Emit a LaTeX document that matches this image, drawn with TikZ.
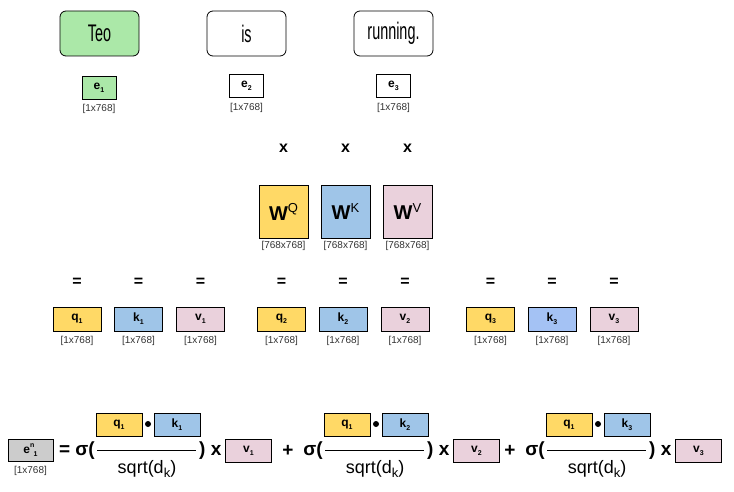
\documentclass[tikz,border=0pt]{standalone}
\usepackage{fontspec}
\setmainfont{Liberation Sans}
\usepackage{graphicx}
\usetikzlibrary{positioning}

\definecolor{wordgreen}{HTML}{ABE8A8}
\definecolor{qyellow}{HTML}{FFD966}
\definecolor{kblue}{HTML}{9FC5E8}
\definecolor{kbluealt}{HTML}{A4C2F4}
\definecolor{vpink}{HTML}{EAD1DC}
\definecolor{engray}{HTML}{CCCCCC}

\newcommand{\setfs}[1]{\fontsize{#1}{#1}\selectfont}
\newcommand{\narrowword}[1]{\scalebox{0.6}[1]{#1}}
\newcommand{\lowsub}[1]{\raisebox{-0.45ex}{\scriptsize #1}}

\begin{document}
\begin{tikzpicture}[x=1pt,y=-1pt,
  word/.style={draw,line width=0.8pt,rounded corners=6pt,minimum width=79pt,minimum height=45pt,inner sep=0pt,font=\setfs{24}},
  vecbox/.style={draw,line width=0.8pt,minimum width=48pt,minimum height=24pt,inner sep=0pt,font=\setfs{12}\bfseries},
  embox/.style={vecbox,minimum width=34pt,minimum height=23pt},
  matbox/.style={draw,line width=0.8pt,minimum width=49pt,minimum height=53pt,inner sep=0pt,font=\setfs{20}\bfseries},
  dimlabel/.style={font=\setfs{10},text=black!80,inner sep=0pt},
  opsign/.style={font=\setfs{16}\bfseries,inner sep=0pt},
  bigop/.style={font=\setfs{19}\bfseries,inner sep=0pt},
  sqrtlabel/.style={font=\setfs{18},inner sep=0pt}]
 \useasboundingbox (0,0) rectangle (734,492);

 % tokens and their embeddings
 \node[word,fill=wordgreen] (teo) at (99.5,33.5) {\narrowword{Teo}};
 \node[word] (is) at (246.5,33.5) {\narrowword{is}};
 \node[word] (running) at (393.5,33.5) {\narrowword{running.}};
 \node[embox,fill=wordgreen] (e1) at (99,87.5) {e\lowsub{1}};
 \node[embox] (e2) at (246.5,86) {e\lowsub{2}};
 \node[embox] (e3) at (393.5,86) {e\lowsub{3}};
 \foreach \i in {1,2,3}{\node[dimlabel,below=5pt of e\i] (e\i-dim) {[1x768]};}

 % weight matrices
 \foreach \m/\x/\c in {Q/283.5/qyellow,K/345.5/kblue,V/407.5/vpink}{
  \node[opsign] (times\m) at (\x,148) {x};
  \node[matbox,fill=\c] (W\m) at (\x,211.5) {W\raisebox{0.75ex}{\mdseries\setfs{13}\m}};
  \node[dimlabel,below=3pt of W\m] (W\m-dim) {[768x768]};
 }

 % queries, keys, values
 \foreach \i/\x/\kc in {1/77/kblue,2/281.5/kblue,3/490.5/kbluealt}{
  \node[vecbox,fill=qyellow] (q\i) at (\x,319) {q\lowsub{\i}};
  \node[vecbox,fill=\kc] (k\i) at (\x+61.5,319) {k\lowsub{\i}};
  \node[vecbox,fill=vpink] (v\i) at (\x+123.5,319) {v\lowsub{\i}};
  \foreach \b in {q,k,v}{
   \node[opsign,above=20pt of \b\i] (eq-\b\i) {=};
   \node[dimlabel,below=5pt of \b\i] (\b\i-dim) {[1x768]};
  }
 }

 % new embedding of "Teo"
 \node[vecbox,fill=engray,minimum width=45pt,minimum height=22pt] (en1) at (30.5,450) {e\raisebox{0.9ex}{\scriptsize n}\hspace{-0.05em}\lowsub{1}};
 \node[dimlabel,below=5pt of en1] (en1-dim) {[1x768]};
 \node[bigop,anchor=east] (sig1) at (95,451) {= σ(};
 \foreach \g/\x in {1/96,2/324,3/546}{
  \node[vecbox,fill=qyellow,minimum width=46pt,minimum height=23pt] (fq\g) at (\x+23,424.5) {q\lowsub{1}};
  \node[circle,fill=black,inner sep=0pt,minimum size=6pt] (dot\g) at (\x+52,424) {};
  \node[vecbox,fill=kblue,minimum width=46pt,minimum height=23pt] (fk\g) at (\x+81,424.5) {k\lowsub{\g}};
  \coordinate (fl\g) at (\x+1,450);
  \coordinate (fr\g) at (\x+100,450);
  \draw[line width=0.8pt] (fl\g) -- (fr\g);
  \node[sqrtlabel] (sq\g) at (\x+51,469) {sqrt(d\raisebox{-0.45ex}{\setfs{13}k})};
  \node[bigop,anchor=west] (cl\g) at (\x+103,451) {) x};
  \node[vecbox,fill=vpink,minimum width=46pt,minimum height=23pt] (fv\g) at (\x+152.5,450.5) {v\lowsub{\g}};
 }
 \foreach \g/\x in {2/324,3/546}{
  \node[bigop] (plus\g) at (\x-36,451) {+};
  \node[bigop,anchor=east] (sig\g) at (\x-1,451) {σ(};
 }
\end{tikzpicture}
\end{document}
